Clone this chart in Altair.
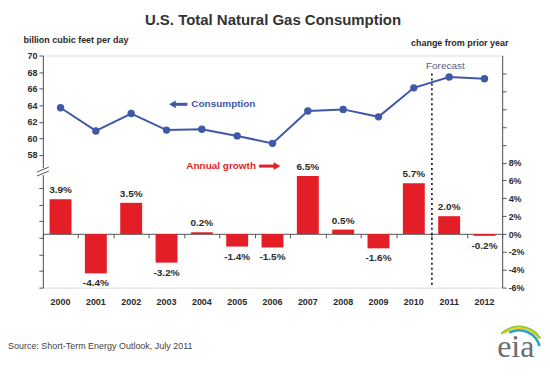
import altair as alt
import pandas as pd

years = [str(y) for y in range(2000, 2013)]
consumption = [63.7, 60.9, 63.0, 61.0, 61.1, 60.3, 59.4, 63.3, 63.5, 62.6, 66.1, 67.4, 67.2]
growth = [3.9, -4.4, 3.5, -3.2, 0.2, -1.4, -1.5, 6.5, 0.5, -1.6, 5.7, 2.0, -0.2]

df = pd.DataFrame({"year": years, "cons": consumption, "growth": growth})
df["label"] = [f"{g:.1f}%" for g in growth]

FONT = "Liberation Sans"
BLUE = "#3F58A8"
RED = "#E41E26"
DARK = "#2b2b2b"

base = alt.Chart(df)
xscale = alt.Scale(paddingInner=0, paddingOuter=0)
gscale = alt.Scale(domain=[-6, 20], nice=False)

left_ticks = [42, 44, 46, 48, 50, 52, 54, 58, 60, 62, 64, 66, 68, 70]
right_ticks = list(range(-6, 20, 2))

line = base.mark_line(color=BLUE, strokeWidth=2, point=alt.OverlayMarkDef(color=BLUE, size=55, filled=True, opacity=1)).encode(
    x=alt.X("year:O", scale=xscale, axis=alt.Axis(
        orient="bottom", offset=-54, labels=False, title=None, domainColor="#555", tickColor="#555",
        tickBand="extent", tickSize=4, domainWidth=1)),
    y=alt.Y("cons:Q", scale=alt.Scale(domain=[42, 70], nice=False, zero=False), axis=alt.Axis(
        orient="left", values=left_ticks,
        labelExpr="datum.value >= 58 ? datum.value : ''",
        title="billion cubic feet per day", titleAngle=0, titleX=-20, titleY=-11,
        titleAlign="left", titleBaseline="bottom", titleFontSize=9, titleFont=FONT,
        titleColor=DARK, titleFontWeight="bold",
        labelFont=FONT, labelFontSize=9, labelFontWeight="bold", labelColor=DARK,
        domainColor="#555", tickColor="#555", tickSize=4, grid=False)),
)

bars = base.mark_bar(color=RED, size=22).encode(
    x=alt.X("year:O", scale=xscale, axis=alt.Axis(
        orient="bottom", domain=False, ticks=False, labelPadding=10, title=None, labelAngle=0,
        labelFont=FONT, labelFontSize=9, labelFontWeight="bold", labelColor=DARK)),
    y=alt.Y("growth:Q", scale=gscale, axis=alt.Axis(
        orient="right", values=right_ticks, labelOverlap=False,
        labelExpr="datum.value <= 8 ? datum.value + '%' : ''",
        title="change from prior year", titleAngle=0, titleX=-92, titleY=-8,
        titleAlign="left", titleBaseline="bottom", titleFontSize=9, titleFont=FONT,
        titleColor=DARK, titleFontWeight="bold",
        labelFont=FONT, labelFontSize=9, labelFontWeight="bold", labelColor=DARK,
        domainColor="#555", tickColor="#555", tickSize=4, grid=False)),
)

pos_labels = base.transform_filter("datum.growth >= 0").mark_text(
    baseline="bottom", dy=-4, font=FONT, fontSize=10, fontWeight="bold", color=DARK
).encode(x=alt.X("year:O", axis=None), y=alt.Y("growth:Q", scale=gscale, axis=None), text="label:N")
neg_labels = base.transform_filter("datum.growth < 0").mark_text(
    baseline="top", dy=5, font=FONT, fontSize=10, fontWeight="bold", color=DARK
).encode(x=alt.X("year:O", axis=None), y=alt.Y("growth:Q", scale=gscale, axis=None), text="label:N")

one = alt.Chart(pd.DataFrame({"a": [0]}))

forecast_rule = one.mark_rule(color="black", strokeDash=[2, 3], strokeWidth=1.5).encode(
    x=alt.value(390.5), y=alt.value(18), y2=alt.value(233))

def txt(s, x, y, size=10, color=DARK, weight="normal", align="left", font=FONT):
    return one.mark_text(text=s, align=align, baseline="middle", fontSize=size,
                         fontWeight=weight, color=color, font=font).encode(
        x=alt.value(x), y=alt.value(y))

title = txt("U.S. Total Natural Gas Consumption", 231, -36, size=15, weight="bold", align="center", color="#333")
cons_t = txt("Consumption", 149, 49, size=10, weight="bold", color=BLUE)
growth_t = txt("Annual growth", 144, 111, size=10, weight="bold", color=RED)
fc_t = txt("Forecast", 404, 11, size=10, color="#55647f", align="center")
src_t = txt("Source: Short-Term Energy Outlook, July 2011", -35, 292, size=9, color="#444")
eia_t = txt("eia", 456, 293, size=32, color="#6d6d6d", font="Liberation Serif")

cons_arrow = [
    one.mark_rule(color=BLUE, strokeWidth=3).encode(x=alt.value(131), x2=alt.value(145), y=alt.value(49)),
    one.mark_point(shape="triangle-left", filled=True, color=BLUE, size=60, opacity=1).encode(x=alt.value(130), y=alt.value(49)),
]
growth_arrow = [
    one.mark_rule(color=RED, strokeWidth=3).encode(x=alt.value(217), x2=alt.value(233), y=alt.value(111)),
    one.mark_point(shape="triangle-right", filled=True, color=RED, size=60, opacity=1).encode(x=alt.value(235), y=alt.value(111)),
]

brk = [
    one.mark_rule(color="white", strokeWidth=4).encode(x=alt.value(0), y=alt.value(113), y2=alt.value(120)),
    one.mark_rule(color="#555", strokeWidth=1).encode(x=alt.value(-6), x2=alt.value(6), y=alt.value(117), y2=alt.value(112)),
    one.mark_rule(color="#555", strokeWidth=1).encode(x=alt.value(-6), x2=alt.value(6), y=alt.value(121), y2=alt.value(116)),
]

swoosh = [
    one.mark_arc(color="#8cc63f", radius=26, radius2=24, theta=5.5, theta2=7.3).encode(x=alt.value(478), y=alt.value(297)),
    one.mark_arc(color="#f2cf1d", radius=24, radius2=22.5, theta=5.6, theta2=7.3).encode(x=alt.value(478), y=alt.value(297)),
    one.mark_arc(color="#1fa3d8", radius=22.5, radius2=20, theta=5.8, theta2=7.6).encode(x=alt.value(478), y=alt.value(297)),
]

chart = alt.layer(
    line, bars, pos_labels, neg_labels, forecast_rule, title, cons_t, growth_t, fc_t, src_t,
    *swoosh, eia_t, *cons_arrow, *growth_arrow, *brk
).resolve_scale(y="independent").resolve_axis(x="independent", y="independent").properties(
    width=461, height=233,
    autosize=alt.AutoSizeParams(type="none"),
    padding={"left": 35, "top": 47, "right": 40, "bottom": 80},
).configure_view(stroke=None).configure(background="white")

chart.save("out.html", embed_options={"renderer": "svg", "actions": False})
